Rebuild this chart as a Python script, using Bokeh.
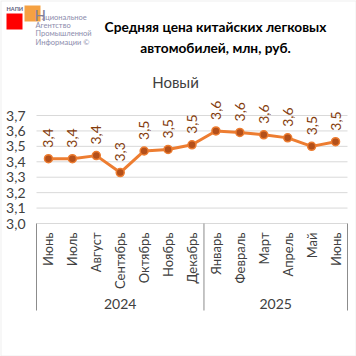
import math
from bokeh.plotting import figure
from bokeh.models import Label, ColumnDataSource, BoxAnnotation
from bokeh.core.properties import value
from bokeh.embed import file_html
from bokeh.resources import INLINE

# ---- data ----
months = ["Июнь", "Июль", "Август", "Сентябрь", "Октябрь", "Ноябрь", "Декабрь",
          "Январь", "Февраль", "Март", "Апрель", "Май", "Июнь"]
years = ["2024"] * 7 + ["2025"] * 6
prices = [3.42, 3.42, 3.44, 3.33, 3.47, 3.48, 3.51, 3.60, 3.59, 3.575, 3.555, 3.50, 3.53]
y_ticks = [3.0, 3.1, 3.2, 3.3, 3.4, 3.5, 3.6, 3.7]
y_tick_labels = ["3,0", "3,1", "3,2", "3,3", "3,4", "3,5", "3,6", "3,7"]
title_lines = ["Средняя цена китайских легковых", "автомобилей, млн, руб."]
series_name = "Новый"
logo_lines = ["ациональное", "Агентство", "Промышленной", "Информации ©"]

FONT = "Lato"
W = H = 356
n = len(months)
xs = list(range(n))
labels = [f"{v:.1f}".replace(".", ",") for v in prices]

# ---- layout geometry (pixels) ----
PL, PR = 36, 347          # plot area left/right
Y_HI_PX, Y_LO_PX = 115, 223  # pixel rows of top and bottom tick
ppx = (PR - PL) / n
ppu = (Y_LO_PX - Y_HI_PX) / (y_ticks[-1] - y_ticks[0])
x0, x1 = -0.5 - PL / ppx, n - 0.5 + (W - PR) / ppx
y1 = y_ticks[-1] + Y_HI_PX / ppu
y0 = y_ticks[0] - (H - Y_LO_PX) / ppu
sep_len = 87 / ppu

src = ColumnDataSource(dict(x=xs, y=prices, lab=labels, month=months,
                            base=[y_ticks[0]] * n))

groups = []
for yv in dict.fromkeys(years):
    idx = [i for i, yy in enumerate(years) if yy == yv]
    groups.append((yv, min(idx), max(idx)))
sep_x = [g[1] - 0.5 for g in groups] + [groups[-1][2] + 0.5]
ysrc = ColumnDataSource(dict(x=[(a + b) / 2 for _, a, b in groups],
                             y=[y_ticks[0]] * len(groups),
                             t=[g[0] for g in groups]))

p = figure(width=W, height=H, x_range=(x0, x1), y_range=(y0, y1),
           output_backend="svg", toolbar_location=None,
           x_axis_location=None, y_axis_location=None,
           min_border_left=0, min_border_right=0, min_border_top=0, min_border_bottom=0)
p.outline_line_color = None
p.background_fill_color = "white"
p.border_fill_color = "white"
p.xgrid.grid_line_color = None
p.ygrid.grid_line_color = None

# value axis: grid lines + tick labels
p.segment(x0=[-0.5] * len(y_ticks), x1=[n - 0.5] * len(y_ticks), y0=y_ticks, y1=y_ticks,
          line_color="#d9d9d9", line_width=1)
p.text(x=[-0.5] * len(y_ticks), y=y_ticks, text=y_tick_labels, x_offset=-11,
       text_align="right", text_baseline="middle",
       text_font=value(FONT), text_font_size="14px", text_color="#404040")

# category axis separators and labels
p.segment(x0=sep_x, x1=sep_x, y0=[y_ticks[0]] * len(sep_x),
          y1=[y_ticks[0] - sep_len] * len(sep_x), line_color="#8c8c8c", line_width=1)
p.text(x="x", y="base", text="month", source=src, angle=math.pi / 2,
       text_align="right", text_baseline="middle", y_offset=9,
       text_font=value(FONT), text_font_size="13px", text_color="#404040")
p.text(x="x", y="y", text="t", source=ysrc, text_align="center", text_baseline="middle",
       y_offset=80, text_font=value(FONT), text_font_size="14px", text_color="#404040")

# series
p.line("x", "y", source=src, line_color="#ED7D31", line_width=3)
p.scatter("x", "y", source=src, size=8, fill_color="#B4501A", line_color="#ED7D31",
          line_width=1.5)
p.text(x="x", y="y", text="lab", source=src, angle=math.pi / 2,
       text_align="left", text_baseline="middle", y_offset=-11,
       text_font=value(FONT), text_font_size="14px", text_color="#843C0C")

# titles (screen units: x from left, y from bottom)
for i, t in enumerate(title_lines):
    p.add_layout(Label(x=215, y=H - 26 - 21 * i, x_units="screen", y_units="screen",
                       text=t, text_align="center", text_baseline="middle",
                       text_font=FONT, text_font_style="bold", text_font_size="13.7px",
                       text_color="#000000"))
p.add_layout(Label(x=175, y=H - 81, x_units="screen", y_units="screen",
                   text=series_name, text_align="center", text_baseline="middle",
                   text_font=FONT, text_font_size="15px", text_color="#404040"))

# logo
p.add_layout(BoxAnnotation(left=6, right=22, top=H - 13, bottom=H - 29,
                           left_units="screen", right_units="screen",
                           top_units="screen", bottom_units="screen",
                           fill_color="#FF0000", fill_alpha=1, line_color=None))
p.add_layout(BoxAnnotation(left=24, right=40, top=H - 5, bottom=H - 21,
                           left_units="screen", right_units="screen",
                           top_units="screen", bottom_units="screen",
                           fill_color="#F5A142", fill_alpha=1, line_color=None))
p.add_layout(Label(x=6, y=H - 8, x_units="screen", y_units="screen", text="НАПИ",
                   text_baseline="middle", text_font=FONT, text_font_size="5.6px",
                   text_font_style="bold", text_color="#5a5a78"))
p.add_layout(Label(x=34, y=H - 14, x_units="screen", y_units="screen", text="Н",
                   text_baseline="middle", text_font=FONT, text_font_size="15px",
                   text_color="#80809a"))
for i, t in enumerate(logo_lines):
    p.add_layout(Label(x=41 if i == 0 else 35, y=H - 16.5 - 8.4 * i,
                       x_units="screen", y_units="screen", text=t,
                       text_baseline="middle", text_font=FONT, text_font_size="7.5px",
                       text_color="#8c8cac"))

# outer border
p.add_layout(BoxAnnotation(fill_alpha=0, line_color="#c8c8c8", line_width=2))

open("out.html", "w").write(file_html(p, INLINE))
